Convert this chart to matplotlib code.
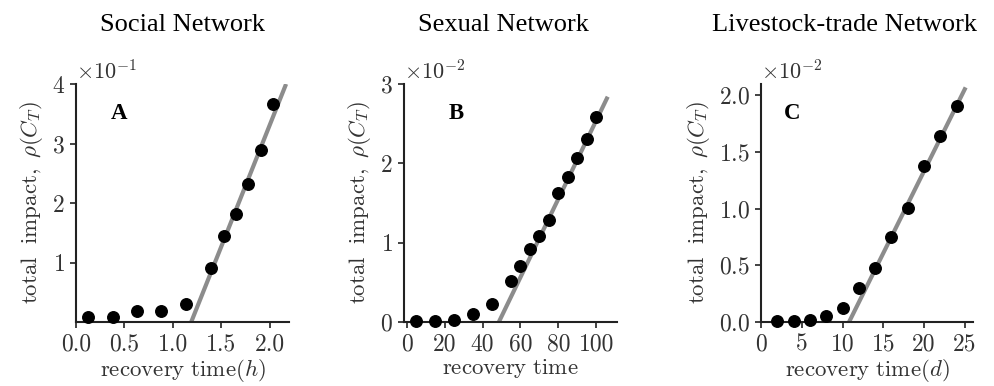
import numpy as np
import matplotlib
matplotlib.use('Agg')
import matplotlib.pyplot as plt
from matplotlib.ticker import ScalarFormatter

plt.rcParams.update({
    'font.family': 'serif', 'font.serif': ['cmr10'],
    'mathtext.fontset': 'cm', 'axes.formatter.use_mathtext': True,
    'font.size': 16, 'axes.unicode_minus': True,
})

# Social network (recovery time in hours)
soc_t = [0.12, 0.38, 0.63, 0.88, 1.14, 1.39, 1.53, 1.65, 1.78, 1.91, 2.03]
soc_rho = [0.0084, 0.0084, 0.0185, 0.0185, 0.030, 0.090, 0.144, 0.182, 0.232, 0.289, 0.366]
soc_fit_t = [1.19, 2.17]
soc_fit_rho = [0.0, 0.40]

# Sexual network
sex_t = [5, 15, 25, 35, 45, 55, 60, 65, 70, 75, 80, 85, 90, 95, 100]
sex_rho = [0.0001, 0.0001, 0.0002, 0.0010, 0.0023, 0.0052, 0.0070, 0.0092,
           0.0109, 0.0129, 0.0162, 0.0183, 0.0207, 0.0231, 0.0258]
sex_fit_t = [48.6, 106.1]
sex_fit_rho = [0.0, 0.0284]

# Livestock-trade network (recovery time in days)
liv_t = [2, 4, 6, 8, 10, 12, 14, 16, 18, 20, 22, 24]
liv_rho = [0.0001, 0.0001, 0.0002, 0.0005, 0.0012, 0.0030, 0.0048, 0.0075,
           0.0101, 0.0138, 0.0164, 0.0191]
liv_fit_t = [10.8, 25.1]
liv_fit_rho = [0.0, 0.0207]

TXT = '#333333'

fig = plt.figure(figsize=(9.95, 3.86), dpi=100)
W, H = 995, 386

panels = [
    dict(box=(76, 289), t=soc_t, r=soc_rho, ft=soc_fit_t, fr=soc_fit_rho,
         xlim=(0, 2.2), ylim=(0, 0.4), xticks=[0.0, 0.5, 1.0, 1.5, 2.0],
         yticks=[0.1, 0.2, 0.3, 0.4], xfmt='%.1f',
         xlabel=r'$\mathrm{recovery\ time}(h)$', letter='A', lpos=(0.202, 0.874),
         title='Social Network', tx=183),
    dict(box=(404, 617), t=sex_t, r=sex_rho, ft=sex_fit_t, fr=sex_fit_rho,
         xlim=(-1.5, 111), ylim=(0, 0.03), xticks=[0, 20, 40, 60, 80, 100],
         yticks=[0, 0.01, 0.02, 0.03], xfmt='%d',
         xlabel=r'$\mathrm{recovery\ time}$', letter='B', lpos=(0.244, 0.876),
         title='Sexual Network', tx=503),
    dict(box=(761, 973), t=liv_t, r=liv_rho, ft=liv_fit_t, fr=liv_fit_rho,
         xlim=(0, 26), ylim=(0, 0.021), xticks=[0, 5, 10, 15, 20, 25],
         yticks=[0, 0.005, 0.01, 0.015, 0.02], xfmt='%d',
         xlabel=r'$\mathrm{recovery\ time}(d)$', letter='C', lpos=(0.148, 0.876),
         title='Livestock-trade Network', tx=845),
]

top, bot = 84, 322
for p in panels:
    l, r = p['box']
    ax = fig.add_axes([l / W, 1 - bot / H, (r - l) / W, (bot - top) / H])
    ax.plot(p['ft'], p['fr'], color='#8c8c8c', lw=3, solid_capstyle='butt', zorder=2)
    ax.plot(p['t'], p['r'], 'o', color='black', ms=8.3, zorder=3, clip_on=False)
    ax.set_xlim(*p['xlim'])
    ax.set_ylim(*p['ylim'])
    ax.set_xticks(p['xticks'])
    ax.set_xticklabels([p['xfmt'] % v for v in p['xticks']])
    ax.set_yticks(p['yticks'])
    fmt = ScalarFormatter(useMathText=True)
    fmt.set_powerlimits((0, 0))
    ax.yaxis.set_major_formatter(fmt)
    for s in ['top', 'right']:
        ax.spines[s].set_visible(False)
    for s in ['left', 'bottom']:
        ax.spines[s].set_linewidth(1.5)
        ax.spines[s].set_color('#222222')
    ax.tick_params(width=1.2, length=4, colors='#222222', labelcolor=TXT, labelsize=17, pad=4)
    ax.yaxis.get_offset_text().set_color(TXT)
    ax.yaxis.get_offset_text().set_fontsize(16)
    ax.set_xlabel(p['xlabel'], color=TXT, fontsize=16.5, labelpad=1)
    ax.set_ylabel(r'$\mathrm{total\ \ impact,}\ \rho(C_T)$', color=TXT, fontsize=16.5, labelpad=5)
    ax.text(*p['lpos'], p['letter'], transform=ax.transAxes, family='Liberation Serif',
            fontweight='bold', fontsize=16.5, ha='center', va='center')
    fig.text(p['tx'] / W, 1 - 25 / H, p['title'], family='Liberation Serif',
             fontsize=19, ha='center', va='center')

fig.savefig('out.png', dpi=100)
